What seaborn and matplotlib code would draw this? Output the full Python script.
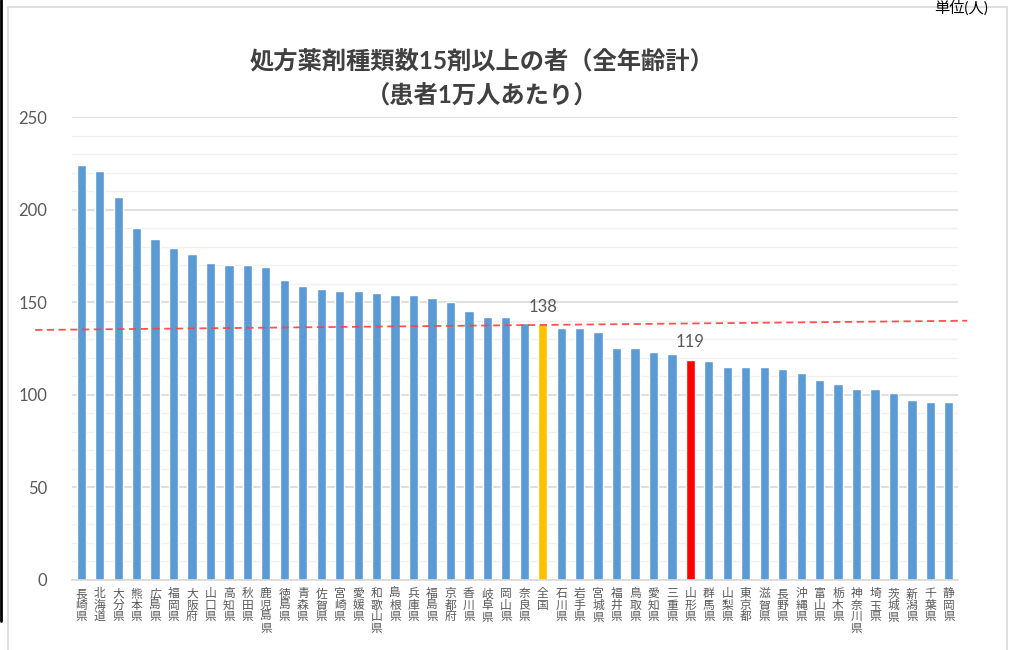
#
# 処方薬剤種類数15剤以上の者 (患者1万人あたり) 都道府県別
#

import pandas as pd
import matplotlib.pyplot as plt
from matplotlib.ticker import MultipleLocator
from matplotlib.patches import Rectangle
from matplotlib.lines import Line2D
import seaborn as sns

#%%

prefs = ['長崎県', '北海道', '大分県', '熊本県', '広島県', '福岡県', '大阪府', '山口県',
         '高知県', '秋田県', '鹿児島県', '徳島県', '青森県', '佐賀県', '宮崎県', '愛媛県',
         '和歌山県', '島根県', '兵庫県', '福島県', '京都府', '香川県', '岐阜県', '岡山県',
         '奈良県', '全国', '石川県', '岩手県', '宮城県', '福井県', '鳥取県', '愛知県',
         '三重県', '山形県', '群馬県', '山梨県', '東京都', '滋賀県', '長野県', '沖縄県',
         '富山県', '栃木県', '神奈川県', '埼玉県', '茨城県', '新潟県', '千葉県', '静岡県']

values = [224, 221, 207, 190, 184, 179, 176, 171,
          170, 170, 169, 162, 159, 157, 156, 156,
          155, 154, 154, 152, 150, 145, 142, 142,
          139, 138, 136, 136, 134, 125, 125, 123,
          122, 119, 118, 115, 115, 115, 114, 112,
          108, 106, 103, 103, 101, 97, 96, 96]

labelled = {'全国': '138', '山形県': '119'}
highlight = {'全国': '#FFC000', '山形県': '#FF0000'}
# red dashed reference line drawn by hand on the original (start / end)
ref_x = [-2.5, 48.0]
ref_y = [135.0, 140.0]

df = pd.DataFrame({'pref': prefs, 'value': values})
palette = {p: highlight.get(p, '#5B9BD5') for p in prefs}

#%%

sns.set_style('white')
plt.rcParams['font.family'] = ['Lato', 'Noto Sans CJK JP', 'DejaVu Sans']

fig = plt.figure(figsize=(10.09, 6.5), dpi=100)
ax = fig.add_axes([0.0714, 0.1077, 0.8781, 0.7123])

sns.barplot(data=df, x='pref', y='value', hue='pref', palette=palette,
            legend=False, width=0.5, ax=ax, saturation=1)

ax.set_ylim(0, 250)
ax.set_xlim(-0.5, len(prefs) - 0.5)
ax.yaxis.set_major_locator(MultipleLocator(50))
ax.yaxis.set_minor_locator(MultipleLocator(10))
ax.grid(axis='y', which='major', color='#D9D9D9', lw=1.2)
ax.grid(axis='y', which='minor', color='#F0F0F0', lw=1.0)
ax.set_axisbelow(True)
for s in ['top', 'right', 'left']:
    ax.spines[s].set_visible(False)
ax.spines['bottom'].set_color('#D9D9D9')
ax.spines['bottom'].set_linewidth(1.2)

ax.set_xlabel('')
ax.set_ylabel('')
ax.set_xticks(range(len(prefs)))
ax.set_xticklabels(['\n'.join(p) for p in prefs], fontsize=8.5, color='#595959',
                   linespacing=1.05, va='top')
ax.tick_params(axis='x', length=0, pad=6)
ax.tick_params(axis='y', which='both', length=0, pad=18, labelsize=12, labelcolor='#595959')

# value labels
for i, (p, v) in enumerate(zip(prefs, values)):
    if p in labelled:
        ax.annotate(labelled[p], xy=(i, v), xytext=(0, 7), textcoords='offset points',
                    ha='center', va='bottom', fontsize=12, color='#595959')

# hand drawn red dashed line
ax.plot(ref_x, ref_y, color='#FF4040', lw=1.3, ls=(0, (4, 2.5)), clip_on=False, alpha=0.9)

# titles
fig.text(0.478, 0.906, '処方薬剤種類数15剤以上の者（全年齢計）', ha='center', va='center',
         fontsize=17.5, fontweight='bold', color='#404040')
fig.text(0.478, 0.852, '（患者1万人あたり）', ha='center', va='center',
         fontsize=17.5, fontweight='bold', color='#404040')

# chart frame and page bits
fig.add_artist(Rectangle((8 / 1009, -0.05), 999 / 1009, 1.04, transform=fig.transFigure,
                         fill=False, ec='#D9D9D9', lw=1.2))
fig.add_artist(Line2D([0.001, 0.001], [0.045, 1.0], transform=fig.transFigure,
                      color='black', lw=2))
fig.text(0.953, 0.999, '単位(人)', ha='center', va='top', fontsize=11, color='black')

fig.savefig('out.png', dpi=100)
